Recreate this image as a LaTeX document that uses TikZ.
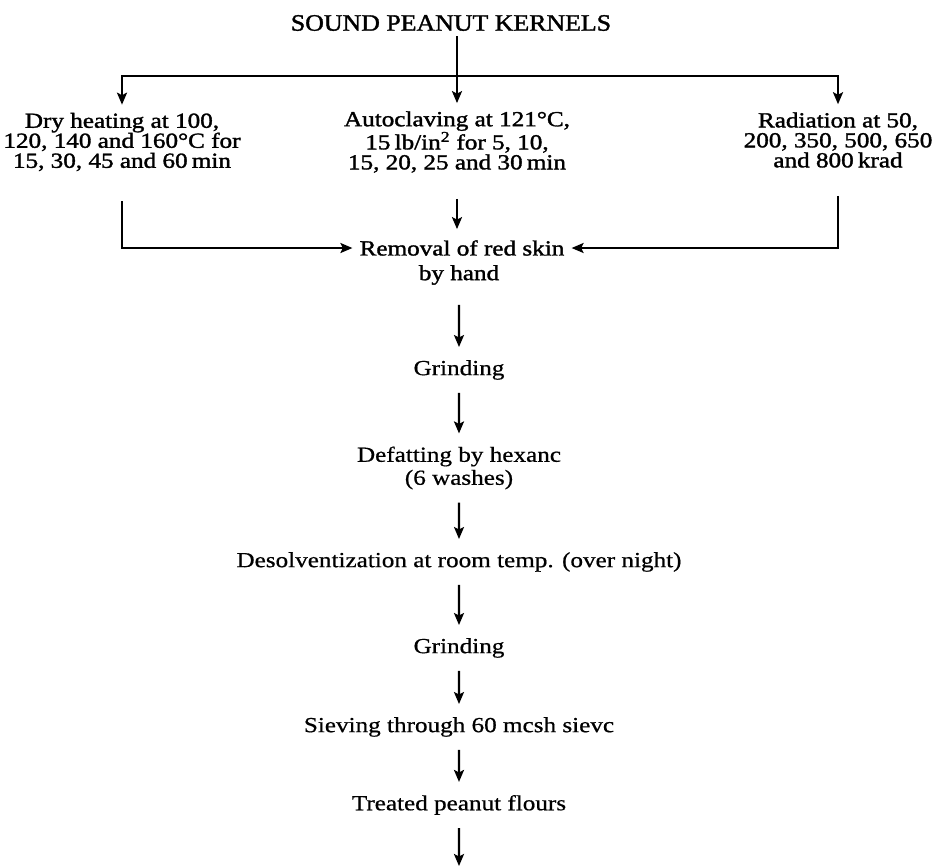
\documentclass[tikz,border=0pt]{standalone}
\usepackage{fontspec}
\setmainfont{Liberation Serif}
\newfontfamily\inkfont{Liberation Serif}[FakeBold=0.6]
\newfontfamily\darkfont{Liberation Serif}[FakeBold=1.4]
\usepackage{tikz}
\usetikzlibrary{arrows.meta, positioning}
\tikzstyle{line} = [line width=2.3pt]
\tikzstyle{arrow} = [line width=2.3pt, -{Stealth[length=12pt, width=10pt, inset=2.5pt]}]
\tikzstyle{txt} = [font=\inkfont\fontsize{21.5}{20}\selectfont, align=center, xscale=1.17, inner xsep=6pt, inner ysep=13pt]
\tikzstyle{option} = [txt, font=\darkfont\fontsize{21.5}{20}\selectfont, inner ysep=8pt]
\tikzstyle{head} = [font=\darkfont\fontsize{23.5}{24}\selectfont, xscale=1.1, inner sep=5pt]

\begin{document}
\begin{tikzpicture}[x=1pt, y=-1pt]
    \useasboundingbox (0,0) rectangle (935,868);
    \node[head] (title) at (451,23) {SOUND PEANUT KERNELS};
    \node[option] (dry) at (122,142) {Dry heating at 100,\\120, 140 and 160°C for\\15, 30, 45 and 60\,min};
    \node[option] (auto) at (457,142) {Autoclaving at 121°C,\\15\,lb/in\textsuperscript{2} for 5, 10,\\15, 20, 25 and 30\,min};
    \node[option] (rad) at (838,140) {Radiation at 50,\\200, 350, 500, 650\\and 800\,krad};
    \node[option, inner ysep=11pt] (skin) at (462,248) {Removal of red skin};
    \node[option, inner ysep=20pt] (hand) at (459,275) {by hand};
    \node[txt] (grind1) at (459,370) {Grinding};
    \node[txt] (defat) at (459,468) {Defatting by hexanc\\[3pt](6 washes)};
    \node[txt] (desolv) at (459,562) {Desolventization at room temp. (over night)};
    \node[txt] (grind2) at (459,648) {Grinding};
    \node[txt] (sieve) at (459,727) {Sieving through 60 mcsh sievc};
    \node[txt] (treated) at (459,805) {Treated peanut flours};
    \coordinate (split) at (457,76);
    \coordinate (out) at (459,866);

    \draw[line] (title.south -| split) -- (split);
    \draw[arrow] (split) -| (dry.north);
    \draw[arrow] (split) -- (auto.north);
    \draw[arrow] (split) -| (rad.north);
    \draw[arrow, shorten <=22pt] (dry.south) |- (skin.west);
    \draw[arrow, shorten <=20pt] (rad.south) |- (skin.east);
    \draw[arrow, shorten <=18pt] (auto.south) -- (auto.south |- skin.north);
    \draw[arrow] (hand) -- (grind1);
    \draw[arrow] (grind1) -- (defat);
    \draw[arrow] (defat) -- (desolv);
    \draw[arrow] (desolv) -- (grind2);
    \draw[arrow] (grind2) -- (sieve);
    \draw[arrow] (sieve) -- (treated);
    \draw[arrow] (treated) -- (out);
\end{tikzpicture}
\end{document}
